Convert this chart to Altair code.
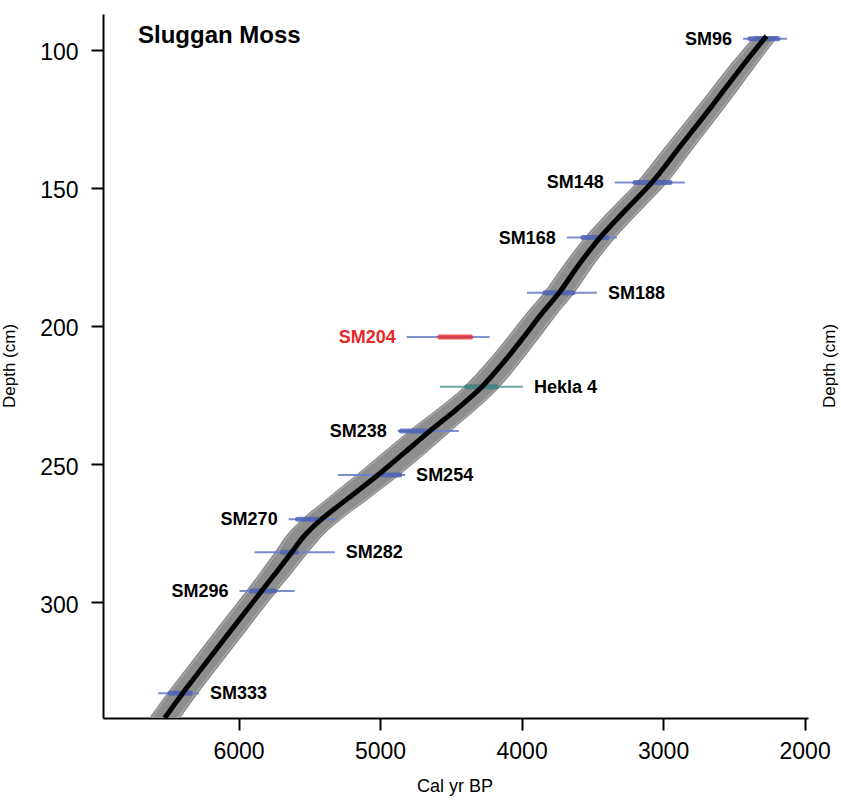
import altair as alt
import pandas as pd
import numpy as np

# ---- age-depth model ----
curve_depth = [95, 107, 120, 135, 148, 158, 168, 178, 188, 196, 204, 213, 222, 230,
               238, 246, 254, 262, 270, 276, 282, 289, 296, 310, 322, 333, 342]
curve_age = [2270, 2457, 2650, 2880, 3079, 3265, 3446, 3598, 3735, 3865, 3985, 4125, 4280, 4455,
             4647, 4830, 5015, 5215, 5413, 5535, 5625, 5730, 5837, 6050, 6230, 6395, 6522]
band_lo = [2185, 2362, 2550, 2775, 2969, 3153, 3336, 3490, 3625, 3753, 3870, 4005, 4152, 4315,
           4497, 4675, 4860, 5065, 5273, 5405, 5505, 5615, 5727, 5940, 6120, 6285, 6412]
band_hi = [2355, 2552, 2750, 2985, 3189, 3377, 3556, 3706, 3845, 3977, 4100, 4245, 4408, 4595,
           4797, 4985, 5170, 5365, 5553, 5665, 5745, 5845, 5947, 6160, 6340, 6505, 6632]

# ---- dated levels ----
date_names = ["SM96", "SM148", "SM168", "SM188", "SM204", "Hekla 4", "SM238", "SM254",
              "SM270", "SM282", "SM296", "SM333"]
date_depth = [96, 148, 168, 188, 204, 222, 238, 254, 270, 282, 296, 333]
range_old = [2435, 3341, 3680, 3962, 4812, 4578, 4875, 5297, 5646, 5887, 5993, 6570]
range_young = [2125, 2847, 3327, 3467, 4225, 3990, 4444, 4823, 5306, 5320, 5604, 6280]
core_old = [2386, 3199, 3567, 3835, 4578, 4387, 4850, 4980, 5583, 5690, 5908, 6485]
core_young = [2188, 2951, 3397, 3637, 4360, 4175, 4660, 4860, 5441, 5590, 5745, 6343]
date_kind = ["date", "date", "date", "date", "outlier", "tephra", "date", "date",
             "date", "date", "date", "date"]
label_side = ["left", "left", "left", "right", "left", "right", "left", "right",
              "left", "right", "left", "right"]

# ---- x / y axis ticks ----
x_ticks = [2000, 3000, 4000, 5000, 6000]
y_ticks = [100, 150, 200, 250, 300]

curve = pd.DataFrame({"depth": curve_depth, "age": curve_age, "lo": band_lo, "hi": band_hi})
dates = pd.DataFrame({
    "name": date_names, "depth": date_depth,
    "r_old": range_old, "r_young": range_young,
    "c_old": core_old, "c_young": core_young,
    "kind": date_kind, "side": label_side,
})
dates["lx"] = np.where(dates["side"] == "left", dates["r_old"], dates["r_young"])

FONT = "Liberation Sans"

xscale = alt.Scale(domain=[1976, 6958], reverse=True, nice=False, zero=False)
yscale = alt.Scale(domain=[87, 342], reverse=True, nice=False, zero=False)

xaxis = alt.Axis(values=x_ticks, format="d", title=None, grid=False,
                 domainColor="black", domainWidth=2, tickColor="black", tickWidth=2,
                 tickSize=12, labelFontSize=23, labelColor="black", labelPadding=10,
                 labelFont=FONT)
yaxis = alt.Axis(values=y_ticks, format="d", title=None, grid=False,
                 domainColor="black", domainWidth=2, tickColor="black", tickWidth=2,
                 tickSize=12, labelFontSize=23, labelColor="black", labelPadding=13,
                 labelOffset=3, labelFont=FONT)


def Y(field):
    return alt.Y(field, type="quantitative", scale=yscale, axis=yaxis)


def X(field):
    return alt.X(field, type="quantitative", scale=xscale, axis=xaxis)


band = alt.Chart(curve).mark_area(
    orient="horizontal", color="#8e8e8e", opacity=1, interpolate="catmull-rom"
).encode(
    y=Y("depth"),
    x=X("lo"),
    x2="hi:Q",
)

edge_lo = alt.Chart(curve).transform_calculate(e="datum.lo + 18").mark_line(
    color="#b8b8b8", strokeWidth=1, opacity=0.9, interpolate="catmull-rom"
).encode(y=Y("depth"), x=X("e"), order="depth:Q")
edge_hi = alt.Chart(curve).transform_calculate(e="datum.hi - 18").mark_line(
    color="#b8b8b8", strokeWidth=1, opacity=0.9, interpolate="catmull-rom"
).encode(y=Y("depth"), x=X("e"), order="depth:Q")

median = alt.Chart(curve).mark_line(
    color="black", strokeWidth=5, interpolate="catmull-rom"
).encode(y=Y("depth"), x=X("age"), order="depth:Q")

range_colors = alt.Scale(domain=["date", "outlier", "tephra"],
                         range=["#6f80c9", "#7585c8", "#5f9f9c"])
core_colors = alt.Scale(domain=["date", "outlier", "tephra"],
                        range=["#4a5fb2", "#e8282b", "#3c7e7e"])

ranges = alt.Chart(dates).mark_rule(strokeWidth=2, opacity=0.9).encode(
    y=Y("depth"), x=X("r_old"), x2="r_young:Q",
    color=alt.Color("kind:N", scale=range_colors, legend=None),
)
cores = alt.Chart(dates).mark_rule(strokeWidth=5, opacity=0.8, strokeCap="round").encode(
    y=Y("depth"), x=X("c_old"), x2="c_young:Q",
    stroke=alt.Stroke("kind:N", scale=core_colors, legend=None),
)

label_color = alt.condition(alt.datum.kind == "outlier", alt.value("#e8282b"), alt.value("black"))
lab_left = alt.Chart(dates).transform_filter(alt.datum.side == "left").mark_text(
    align="right", baseline="middle", dx=-11, dy=1, fontSize=18, fontWeight="bold", font=FONT
).encode(y=Y("depth"), x=X("lx"), text="name:N", color=label_color)
lab_right = alt.Chart(dates).transform_filter(alt.datum.side == "right").mark_text(
    align="left", baseline="middle", dx=11, dy=1, fontSize=18, fontWeight="bold", font=FONT
).encode(y=Y("depth"), x=X("lx"), text="name:N", color=label_color)

title = alt.Chart(pd.DataFrame({"t": ["Sluggan Moss"]})).mark_text(
    align="left", baseline="alphabetic", fontSize=24, fontWeight="bold", font=FONT, color="black"
).encode(x=alt.value(35), y=alt.value(29), text="t:N")

ytitle_l = alt.Chart(pd.DataFrame({"t": ["Depth (cm)"]})).mark_text(
    align="center", baseline="middle", angle=270, fontSize=17, font=FONT, color="black"
).encode(x=alt.value(-93), y=alt.value(352), text="t:N")
ytitle_r = alt.Chart(pd.DataFrame({"t": ["Depth (cm)"]})).mark_text(
    align="center", baseline="middle", angle=270, fontSize=17, font=FONT, color="black"
).encode(x=alt.value(727), y=alt.value(352), text="t:N")
xtitle = alt.Chart(pd.DataFrame({"t": ["Cal yr BP"]})).mark_text(
    align="center", baseline="middle", fontSize=18, font=FONT, color="black"
).encode(x=alt.value(352), y=alt.value(773), text="t:N")

chart = alt.layer(
    band, edge_lo, edge_hi, ranges, cores, median, lab_left, lab_right,
    title, ytitle_l, ytitle_r, xtitle
).properties(
    width=705, height=704,
    autosize=alt.AutoSizeParams(type="none"),
    padding={"left": 103, "top": 14, "right": 33, "bottom": 85},
    background="white",
).configure_view(stroke=None)

chart.save("out.html", embed_options={"renderer": "svg", "actions": False})
